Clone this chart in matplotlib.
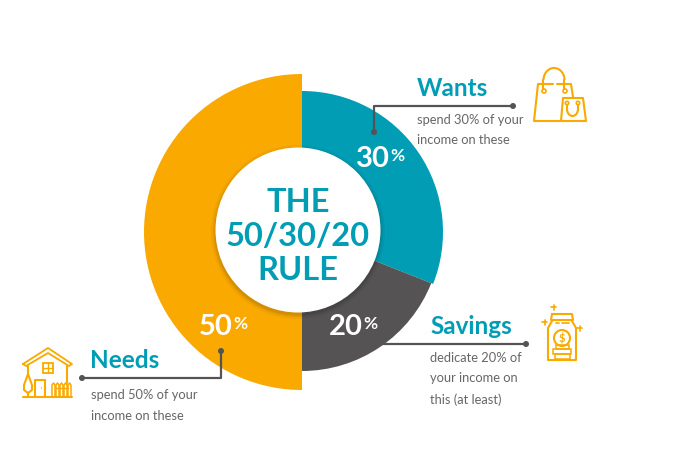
#!/usr/bin/env python3
"""The 50/30/20 budgeting rule as a donut infographic."""

import matplotlib
matplotlib.use('Agg')
import matplotlib.pyplot as plt
from matplotlib.patches import Circle, Rectangle, Arc

plt.rcParams['font.family'] = ['Lato', 'DejaVu Sans']

# Chart data
categories = ['Wants', 'Savings', 'Needs']
shares = [30, 20, 50]
# the slices as drawn are slightly off the printed labels
slice_sizes = [31, 19, 50]
descriptions = ['spend 30% of your\nincome on these',
                'dedicate 20% of\nyour income on\nthis (at least)',
                'spend 50% of your\nincome on these']
center_lines = ['THE', '50/30/20', 'RULE']

TEAL = '#009DB4'
ORANGE = '#F9A900'
GRAY = '#555354'
TEXT = '#666666'
H = 466


def Y(py):
    """Picture rows run downward, the axes run upward."""
    return H - py


def path(ax, pts, color=ORANGE, lw=1.5):
    ax.plot([p[0] for p in pts], [Y(p[1]) for p in pts], color=color, lw=lw,
            solid_capstyle='round', solid_joinstyle='round', zorder=6)


def ring(ax, x, y, r, color=ORANGE, lw=1.2, fill='none'):
    ax.add_patch(Circle((x, Y(y)), r, fc=fill, ec=color, lw=lw, zorder=6))


def connector(ax, pts):
    path(ax, pts, color=GRAY, lw=1.6)
    for p in (pts[0], pts[-1]):
        ax.add_patch(Circle((p[0], Y(p[1])), 3, fc=GRAY, ec='none', zorder=7))


def draw_bags(ax):
    path(ax, [(561, 121), (534, 121), (538, 84), (553, 84)])
    path(ax, [(557, 84), (571, 84), (573, 97)])
    ax.add_patch(Arc((554, Y(80)), 21, 24, theta1=0, theta2=180, color=ORANGE, lw=1.5, zorder=6))
    path(ax, [(543.5, 80), (543.5, 89)])
    path(ax, [(564.5, 80), (564.5, 89)])
    ring(ax, 544, 91, 2)
    ring(ax, 565, 91, 2)
    path(ax, [(561, 121), (563, 98), (583, 98), (586, 121), (561, 121)])
    ring(ax, 567, 103, 1.7)
    ring(ax, 578, 103, 1.7)
    ax.add_patch(Arc((572.5, Y(109)), 11, 14, theta1=180, theta2=360, color=ORANGE, lw=1.5, zorder=6))
    path(ax, [(567, 105), (567, 109)])
    path(ax, [(578, 105), (578, 109)])


def draw_jar(ax):
    path(ax, [(552, 314), (572, 314), (573, 320), (551, 320), (552, 314)])
    path(ax, [(552, 321), (548, 328), (548, 360), (576, 360), (576, 328), (572, 321)])
    path(ax, [(556, 323), (559, 323)], lw=1.2)
    path(ax, [(562, 323), (569, 323)], lw=1.2)
    ring(ax, 562, 338, 8, lw=1.5)
    ax.text(562, Y(338), '$', color=ORANGE, fontsize=8, fontweight='bold',
            ha='center', va='center', zorder=6)
    for x0, x1, y0, y1 in [(556, 569, 345, 349), (553, 571, 349, 354), (555, 570, 354, 359)]:
        ax.add_patch(Rectangle((x0, Y(y1)), x1 - x0, y1 - y0, fc='none', ec=ORANGE, lw=1.1, zorder=6))
    for x, y in [(554, 307), (545, 322), (580, 328)]:
        path(ax, [(x - 2.5, y), (x + 2.5, y)], lw=1.2)
        path(ax, [(x, y - 2.5), (x, y + 2.5)], lw=1.2)


def draw_house(ax):
    path(ax, [(23, 364), (48, 348), (72, 364), (69, 366), (48, 353), (26, 366), (23, 364)], lw=1.3)
    path(ax, [(28, 366), (28, 374)])
    path(ax, [(67, 366), (67, 383)])
    path(ax, [(23, 397), (72, 397)])
    ax.add_patch(Rectangle((43, Y(373)), 10.5, 10.5, fc='none', ec=ORANGE, lw=1.3, zorder=6))
    path(ax, [(48.2, 363), (48.2, 373)], lw=1)
    path(ax, [(43, 368), (53.5, 368)], lw=1)
    path(ax, [(35, 397), (35, 380), (45, 380), (45, 397)])
    ax.add_patch(Circle((41.5, Y(388)), 0.7, fc=ORANGE, ec='none', zorder=6))
    # tree
    path(ax, [(28, 374), (24, 385), (24, 390), (28, 393), (32, 390), (32, 385), (28, 374)])
    path(ax, [(28, 393), (28, 397)])
    # fence
    for x in (52, 56, 60, 64, 68):
        path(ax, [(x, 397), (x, 385), (x + 1.5, 383), (x + 3, 385), (x + 3, 397)], lw=1.1)
    path(ax, [(56, 388), (68, 388)], lw=1)


def main():
    fig = plt.figure(figsize=(6.85, 4.66), dpi=100)
    ax = fig.add_axes([0, 0, 1, 1])

    # Donut: one pie, with each wedge pulled out to its own radius
    wedges, _ = ax.pie(slice_sizes, startangle=90, counterclock=False,
                       center=(302, Y(232)), radius=141,
                       colors=[TEAL, GRAY, ORANGE], normalize=True)
    for wedge, radius in zip(wedges, [141, 139, 158]):
        wedge.set_radius(radius)
        wedge.set_linewidth(0)
    ax.set_xlim(0, 685)
    ax.set_ylim(0, H)
    ax.set_aspect('equal')
    ax.axis('off')

    # White middle with a soft shadow
    for grow, alpha in [(5, 0.04), (3, 0.05), (1.5, 0.07)]:
        ax.add_patch(Circle((298, Y(232)), 82 + grow, fc='black', ec='none', alpha=alpha, zorder=3))
    ax.add_patch(Circle((298, Y(230)), 82.5, fc='white', ec='none', zorder=4))

    for line, py in zip(center_lines, [202, 236, 271]):
        ax.text(298, Y(py), line, color=TEAL, fontsize=23.5, fontweight='bold',
                ha='center', va='center', zorder=5)

    # Percent labels on the ring
    for share, px, py in zip(shares, [373, 346, 216], [159, 327, 327]):
        ax.text(px + 17, Y(py), str(share), color='white', fontsize=21, fontweight='bold',
                ha='right', va='center', zorder=5)
        ax.text(px + 17, Y(py - 3), '%', color='white', fontsize=12.5, fontweight='bold',
                ha='left', va='center', zorder=5)

    # Connectors
    connector(ax, [(374, 132), (374, 106), (513, 106)])
    path(ax, [(382, 344), (526, 344)], color=GRAY, lw=1.6)
    ax.add_patch(Circle((526, Y(344)), 3, fc=GRAY, ec='none', zorder=7))
    connector(ax, [(221, 351), (221, 378), (82, 378)])

    # Headings and notes
    for name, note, hx, hy, ny in zip(categories, descriptions,
                                      [417, 430, 90], [88, 326, 360], [114, 352, 389]):
        ax.text(hx, Y(hy), name, color=TEAL, fontsize=17.5, fontweight='bold',
                ha='left', va='center', zorder=5)
        ax.text(hx + (0 if name != 'Needs' else 1), Y(ny), note, color=TEXT, fontsize=9.3,
                ha='left', va='top', linespacing=1.85, zorder=5)

    draw_bags(ax)
    draw_jar(ax)
    draw_house(ax)

    fig.savefig('out.png', dpi=100, facecolor='white')


if __name__ == '__main__':
    main()
